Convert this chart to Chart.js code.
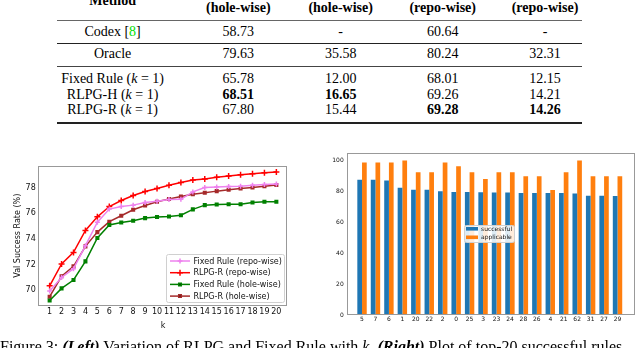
<!DOCTYPE html>
<html>
<head>
<meta charset="utf-8">
<script src="https://cdn.jsdelivr.net/npm/chart.js@4.4.0/dist/chart.umd.min.js"></script>
<style>
html, body { margin: 0; padding: 0; background: #fff; }
body { width: 640px; height: 348px; overflow: hidden; position: relative;
       font-family: 'Liberation Serif', 'Times New Roman', serif; color: #000; }
.cell { position: absolute; width: 160px; text-align: center; font-size: 14px;
        line-height: 16px; white-space: nowrap; }
.rule { position: absolute; left: 57px; width: 525px; }
#left { position: absolute; left: 0; top: 140px; width: 300px; height: 195px; }
#right { position: absolute; left: 320px; top: 140px; width: 320px; height: 200px; }
#caption { position: absolute; left: 0; top: 339px; font-size: 16px; line-height: 16px;
           white-space: nowrap; }
</style>
</head>
<body>
<div id="table"></div>
<div id="left"><canvas id="lineChart"></canvas></div>
<div id="right"><canvas id="barChart"></canvas></div>
<div id="caption">Figure 3: <b><i>(Left)</i></b> Variation of RLPG and Fixed Rule with <i>k</i>. <b><i>(Right)</i></b> Plot of top-20 successful rules</div>
<script>
// table values
var methods = ['Codex [<span style="color:#00e000">8</span>]', 'Oracle',
    'Fixed Rule (<i>k</i> = 1)', 'RLPG-H (<i>k</i> = 1)', 'RLPG-R (<i>k</i> = 1)'];
var headers = ['(hole-wise)', '(hole-wise)', '(repo-wise)', '(repo-wise)'];
var holeSuccess = ['58.73', '79.63', '65.78', '68.51', '67.80'];
var holeImp = ['-', '35.58', '12.00', '16.65', '15.44'];
var repoSuccess = ['60.64', '80.24', '68.01', '69.26', '69.28'];
var repoImp = ['-', '32.31', '12.15', '14.21', '14.26'];
var bestRow = [3, 3, 4, 4];

// left chart values
var kValues = [1, 2, 3, 4, 5, 6, 7, 8, 9, 10, 11, 12, 13, 14, 15, 16, 17, 18, 19, 20];
var fixedRepo = [69.95, 71.0, 71.68, 73.47, 75.3, 76.32, 76.52, 76.63, 76.84, 76.94,
                 77.07, 77.08, 77.66, 78.0, 78.05, 78.08, 78.1, 78.18, 78.23, 78.28];
var rlpgRepo = [70.35, 72.05, 72.95, 74.66, 75.72, 76.52, 76.99, 77.38, 77.69, 77.92,
                78.18, 78.39, 78.58, 78.67, 78.8, 78.9, 79.0, 79.07, 79.15, 79.2];
var fixedHole = [69.2, 70.15, 70.8, 72.25, 74.07, 75.08, 75.28, 75.41, 75.62, 75.7,
                 75.75, 75.85, 76.3, 76.63, 76.68, 76.7, 76.7, 76.84, 76.89, 76.89];
var rlpgHole = [69.5, 71.09, 71.87, 73.42, 74.53, 75.34, 75.8, 76.27, 76.6, 76.89,
                77.1, 77.3, 77.48, 77.59, 77.72, 77.82, 77.93, 78.0, 78.1, 78.2];
var leftYTicks = [70, 72, 74, 76, 78];

// right chart values
var ruleIds = ['5', '7', '6', '1', '20', '22', '2', '0', '25', '3',
               '23', '24', '28', '26', '4', '21', '62', '31', '27', '29'];
var successful = [87.5, 87.5, 87.0, 82.3, 81.0, 81.0, 80.0, 79.6, 79.5, 79.4,
                  79.2, 79.2, 79.0, 79.0, 78.9, 78.9, 78.6, 77.2, 77.2, 77.0];
var applicable = [98.7, 98.7, 98.7, 100, 92.3, 92.3, 98.7, 96.2, 92.3, 88.0,
                  92.3, 92.3, 89.7, 89.7, 80.8, 92.3, 100, 89.7, 89.7, 89.7];
var rightYTicks = [0, 20, 40, 60, 80, 100];

// ---- table ----
var table = document.getElementById('table');
var colX = [112.6, 238.3, 340.7, 442.7, 545];
var rowY = [32.3, 54.3, 79, 94.7, 110];

function addCell(html, cx, cy, bold) {
    var d = document.createElement('div');
    d.className = 'cell';
    d.style.left = (cx - 80) + 'px';
    d.style.top = (cy - 8) + 'px';
    if (bold) d.style.fontWeight = 'bold';
    d.innerHTML = html;
    table.appendChild(d);
}

function addRule(y, h, color) {
    var r = document.createElement('div');
    r.className = 'rule';
    r.style.top = y + 'px';
    r.style.height = h + 'px';
    r.style.background = color;
    table.appendChild(r);
}

addCell('Method', colX[0], 0.5, true);
headers.forEach(function(h, i) { addCell(h, colX[i + 1], 8.3, true); });

var columns = [holeSuccess, holeImp, repoSuccess, repoImp];
methods.forEach(function(m, r) {
    addCell(m, colX[0], rowY[r], false);
    columns.forEach(function(col, c) {
        addCell(col[r], colX[c + 1], rowY[r], bestRow[c] == r);
    });
});

addRule(20, 1, '#666');
addRule(43, 1, '#222');
addRule(66, 1, '#444');
addRule(122, 2, '#222');

// ---- charts ----
Chart.defaults.font.family = 'DejaVu Sans';
Chart.defaults.color = '#111';
Chart.defaults.animation = false;

var noGrid = { display: false, drawTicks: false };

function drawFrame(chart) {
    var a = chart.chartArea;
    var ctx = chart.ctx;
    ctx.save();
    ctx.strokeStyle = '#999';
    ctx.lineWidth = 1;
    ctx.strokeRect(Math.round(a.left) + 0.5, Math.round(a.top) + 0.5,
                   Math.round(a.right - a.left) - 1, Math.round(a.bottom - a.top) - 1);
    ctx.restore();
}

function legendBox(ctx, x, y, w, h) {
    ctx.fillStyle = 'rgba(255,255,255,0.85)';
    ctx.strokeStyle = '#d0d0d0';
    ctx.lineWidth = 1;
    ctx.beginPath();
    ctx.roundRect(x + 0.5, y + 0.5, w, h, 2);
    ctx.fill();
    ctx.stroke();
}

var lineSeries = [
    { label: 'Fixed Rule (repo-wise)', data: fixedRepo, color: '#ee82ee', style: 'cross', r: 2.5 },
    { label: 'RLPG-R (repo-wise)', data: rlpgRepo, color: '#ff0000', style: 'cross', r: 3 },
    { label: 'Fixed Rule (hole-wise)', data: fixedHole, color: '#008000', style: 'rect', r: 1.8 },
    { label: 'RLPG-R (hole-wise)', data: rlpgHole, color: '#a52a2a', style: 'rect', r: 1.8 }
];

var lineLegend = {
    id: 'lineLegend',
    afterDraw: function(chart) {
        drawFrame(chart);
        var ctx = chart.ctx;
        ctx.save();
        legendBox(ctx, 166, 114, 118, 48);
        ctx.font = '8px "DejaVu Sans"';
        ctx.textBaseline = 'middle';
        lineSeries.forEach(function(s, i) {
            var y = 121 + i * 11.7;
            ctx.strokeStyle = s.color;
            ctx.lineWidth = 1.5;
            ctx.beginPath();
            ctx.moveTo(170, y);
            ctx.lineTo(190, y);
            ctx.stroke();
            Chart.helpers.drawPoint(ctx, { pointStyle: s.style, radius: s.r, borderWidth: 1.5 }, 180, y);
            ctx.fillStyle = '#111';
            ctx.fillText(s.label, 193.5, y + 0.5);
        });
        ctx.restore();
    }
};

new Chart(document.getElementById('lineChart'), {
    type: 'line',
    data: {
        datasets: lineSeries.map(function(s) {
            return {
                label: s.label,
                data: kValues.map(function(k, i) { return { x: k, y: s.data[i] }; }),
                borderColor: s.color,
                backgroundColor: s.color,
                borderWidth: 1.5,
                pointStyle: s.style,
                pointRadius: s.r,
                pointBorderWidth: 1.5,
                tension: 0
            };
        })
    },
    options: {
        responsive: true,
        maintainAspectRatio: false,
        devicePixelRatio: 1,
        layout: { padding: { top: 25.7, right: 12.3, left: 0, bottom: 0 } },
        plugins: { legend: { display: false }, tooltip: { enabled: false } },
        scales: {
            x: {
                type: 'linear', min: 0.05, max: 20.95,
                grid: noGrid, border: { display: false },
                afterBuildTicks: function(scale) {
                    scale.ticks = kValues.map(function(v) { return { value: v }; });
                },
                afterFit: function(scale) { scale.height = 29.3; },
                ticks: { autoSkip: false, maxRotation: 0, padding: 1.5, font: { size: 8 },
                         callback: function(v) { return String(v); } },
                title: { display: true, text: 'k', font: { size: 8 }, padding: { top: 0, bottom: 4 } }
            },
            y: {
                type: 'linear', min: 68.8, max: 79.7,
                grid: noGrid, border: { display: false },
                afterBuildTicks: function(scale) {
                    scale.ticks = leftYTicks.map(function(v) { return { value: v }; });
                },
                afterFit: function(scale) { scale.width = 38.3; },
                ticks: { padding: 2.5, font: { size: 8 } },
                title: { display: true, text: 'Val Success Rate (%)', font: { size: 8 },
                         padding: { top: 13, bottom: 0 } }
            }
        }
    },
    plugins: [lineLegend]
});

var barLegend = {
    id: 'barLegend',
    afterDraw: function(chart) {
        drawFrame(chart);
        var ctx = chart.ctx;
        ctx.save();
        legendBox(ctx, 144, 85, 50, 17);
        ctx.font = '6px "DejaVu Sans"';
        ctx.textBaseline = 'middle';
        [['successful', '#1f77b4', 88.8], ['applicable', '#ff7f0e', 97.3]].forEach(function(e) {
            ctx.fillStyle = e[1];
            ctx.fillRect(146, e[2] - 1.8, 12, 3.6);
            ctx.fillStyle = '#111';
            ctx.fillText(e[0], 161, e[2] + 0.3);
        });
        ctx.restore();
    }
};

new Chart(document.getElementById('barChart'), {
    type: 'bar',
    data: {
        datasets: [
            { label: 'successful', backgroundColor: '#1f77b4',
              data: successful.map(function(v, i) { return { x: i, y: v }; }) },
            { label: 'applicable', backgroundColor: '#ff7f0e',
              data: applicable.map(function(v, i) { return { x: i, y: v }; }) }
        ]
    },
    options: {
        responsive: true,
        maintainAspectRatio: false,
        devicePixelRatio: 1,
        categoryPercentage: 0.7,
        barPercentage: 1.0,
        layout: { padding: { top: 12.7, right: 5, left: 0, bottom: 0 } },
        plugins: { legend: { display: false }, tooltip: { enabled: false } },
        scales: {
            x: {
                type: 'linear', min: -1.14, max: 20.3, offset: false,
                grid: noGrid, border: { display: false },
                afterBuildTicks: function(scale) {
                    scale.ticks = ruleIds.map(function(l, i) { return { value: i }; });
                },
                afterFit: function(scale) { scale.height = 25; },
                ticks: { autoSkip: false, maxRotation: 0, padding: 1, font: { size: 6 },
                         callback: function(v) { return ruleIds[v]; } }
            },
            y: {
                type: 'linear', min: 0, max: 105,
                grid: noGrid, border: { display: false },
                afterBuildTicks: function(scale) {
                    scale.ticks = rightYTicks.map(function(v) { return { value: v }; });
                },
                afterFit: function(scale) { scale.width = 26.7; },
                ticks: { padding: 3, font: { size: 6 } }
            }
        }
    },
    plugins: [barLegend]
});
</script>
</body>
</html>
